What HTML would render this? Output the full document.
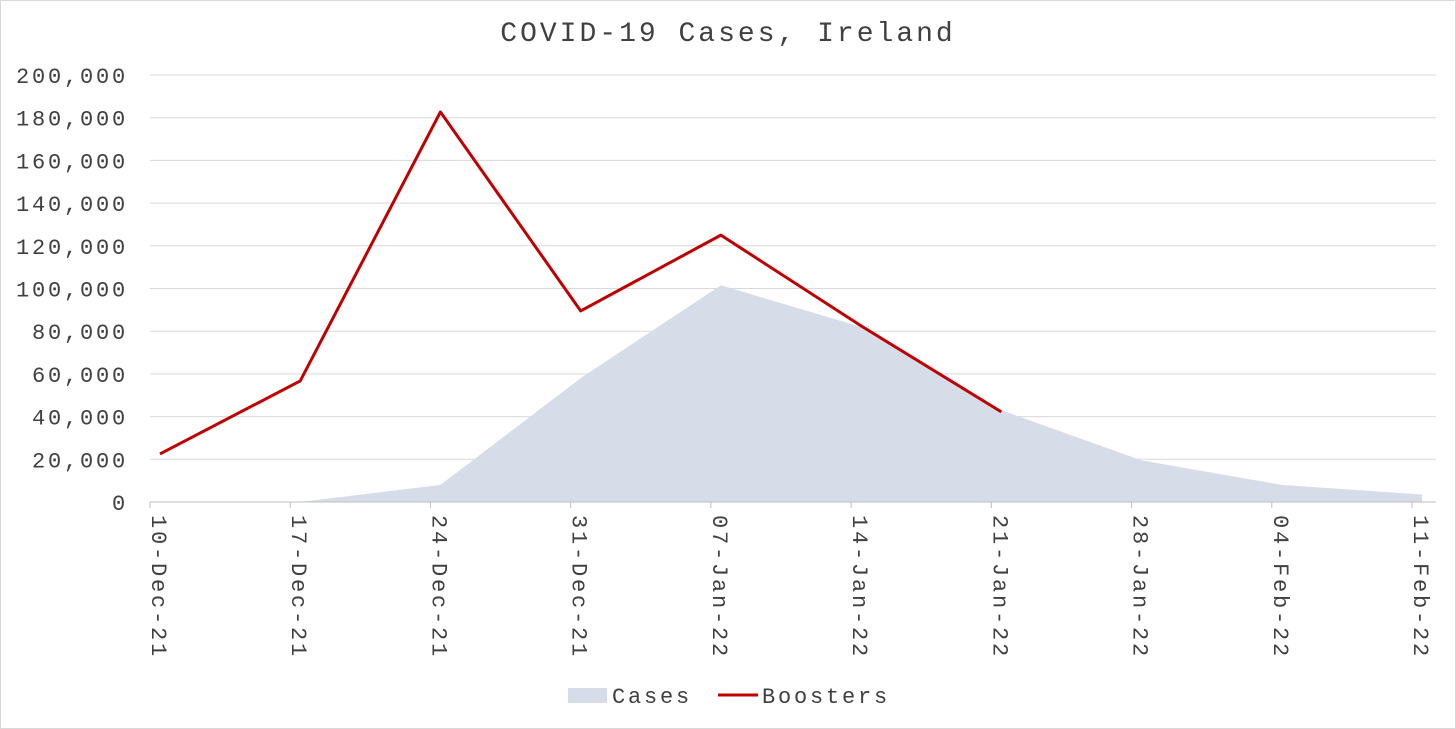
<!DOCTYPE html>
<html><head><meta charset="utf-8"><style>
html,body{margin:0;padding:0;background:#fff}
svg{display:block}
text{font-family:"Liberation Mono",monospace;fill:#404040}
</style></head><body>
<svg id="chart" width="1456" height="729" xmlns="http://www.w3.org/2000/svg">
<rect x="0.5" y="0.5" width="1455" height="728" fill="#fff" stroke="#d9d9d9"/>
<text x="728" y="41" text-anchor="middle" font-size="28" letter-spacing="3">COVID-19 Cases, Ireland</text>
<g id="grid"></g><g id="marks"></g><g id="axes"></g>
<g>
<rect x="568" y="688" width="39" height="15" fill="#d6dde8"/>
<text x="612" y="703" font-size="22" letter-spacing="2.8">Cases</text>
<line x1="718" y1="695" x2="758" y2="695" stroke="#c00000" stroke-width="3"/>
<text x="762" y="703" font-size="22" letter-spacing="2.8">Boosters</text>
</g>
</svg>
<script>
const categories=["10-Dec-21","17-Dec-21","24-Dec-21","31-Dec-21","07-Jan-22","14-Jan-22","21-Jan-22","28-Jan-22","04-Feb-22","11-Feb-22"];
const cases=[null,0,8000,58000,101500,82000,43000,19500,8000,3500];
const boosters=[22500,56700,182700,89500,125000,82500,42200,null,null,null];
const yTicks=[0,20000,40000,60000,80000,100000,120000,140000,160000,180000,200000];
const NS="http://www.w3.org/2000/svg";
const x0=160,x1=1422,yBase=502,yTop=75,yMax=200000;
const X=i=>x0+(x1-x0)*i/(categories.length-1);
const Y=v=>yBase-(yBase-yTop)*v/yMax;
function mk(t,a,p){const e=document.createElementNS(NS,t);for(const k in a)e.setAttribute(k,a[k]);p.appendChild(e);return e;}
const grid=document.getElementById('grid'),marks=document.getElementById('marks'),axes=document.getElementById('axes');
yTicks.forEach(v=>{
 if(v>0){const l=mk('line',{x1:150,x2:1436,y1:Y(v),y2:Y(v),stroke:'#d9d9d9','stroke-width':1},grid);
 
 }
 const t=mk('text',{x:128,y:Y(v)+8,'text-anchor':'end','font-size':22,'letter-spacing':2.8},axes);
 t.textContent=v.toLocaleString('en-US');
 
 
});
const ax=mk('line',{x1:150,x2:1436,y1:yBase,y2:yBase,stroke:'#bfbfbf','stroke-width':1},axes);


categories.forEach((c,i)=>{
 const tk=mk('line',{x1:X(i)-10,x2:X(i)-10,y1:yBase,y2:yBase+6,stroke:'#bfbfbf'},axes);
 
 
 const t=mk('text',{x:0,y:0,'font-size':22,'letter-spacing':2.8,transform:`translate(${X(i)-8},515) rotate(90)`},axes);
 t.textContent=c;
 
 
});
// cases area
let pts=[],first=-1,last=-1;
cases.forEach((v,i)=>{if(v!==null){if(first<0)first=i;last=i;pts.push(X(i)+','+Y(v));}});
pts.push(X(last)+','+yBase);pts.unshift(X(first)+','+yBase);
const area=mk('polygon',{points:pts.join(' '),fill:'#d6dde8'},marks);


const bp=[];boosters.forEach((v,i)=>{if(v!==null)bp.push(X(i)+','+Y(v));});
const bl=mk('polyline',{points:bp.join(' '),fill:'none',stroke:'#c00000','stroke-width':3,'stroke-linejoin':'round'},marks);


</script>
</body></html>
